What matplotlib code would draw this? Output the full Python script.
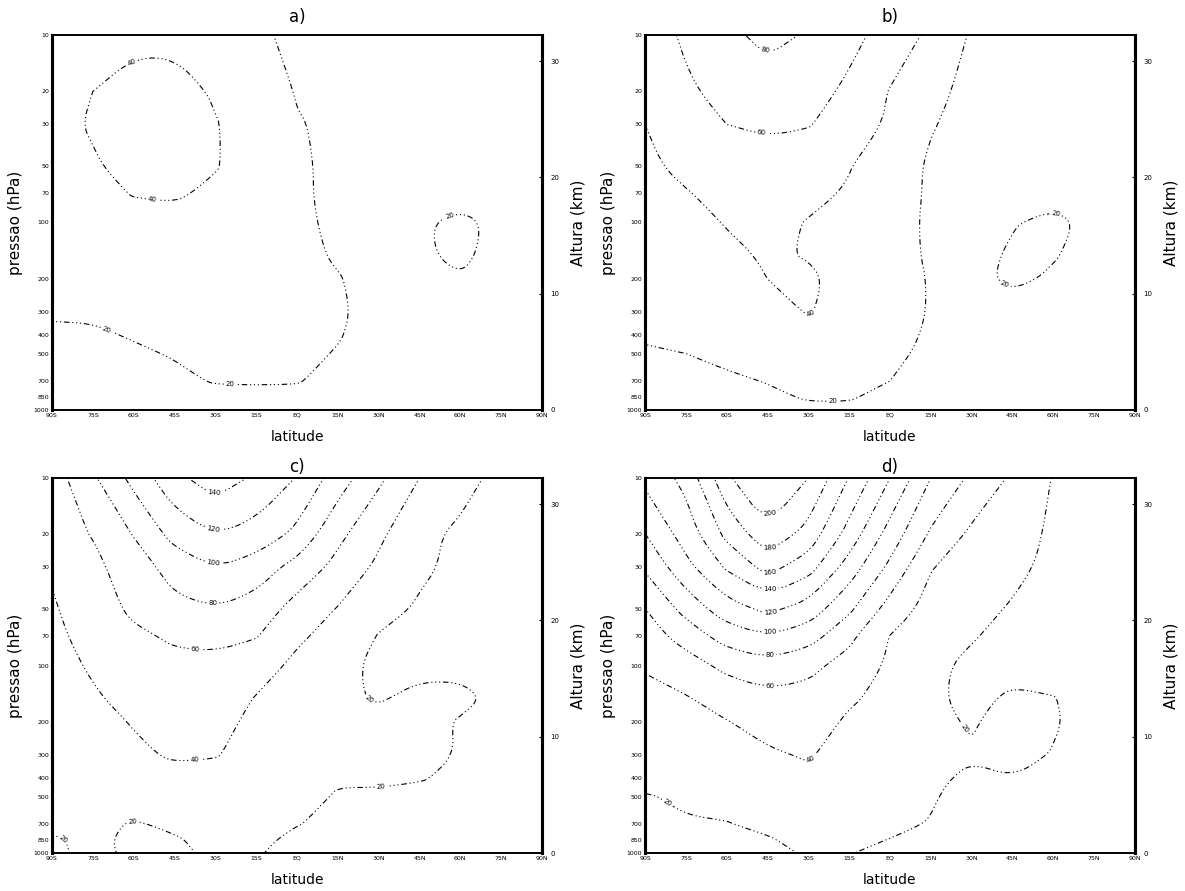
import matplotlib.pyplot as plt
import numpy as np
from matplotlib.path import Path

# grade: latitudes (colunas) e niveis de pressao em hPa (linhas, do topo para a superficie)
lats = [-90, -75, -60, -45, -30, -15, 0, 15, 30, 45, 60, 75, 90]
niveis = [10, 20, 30, 50, 70, 100, 150, 200, 300, 400, 500, 700, 850, 1000]

rotulos_lat = ['90S', '75S', '60S', '45S', '30S', '15S', 'EQ',
               '15N', '30N', '45N', '60N', '75N', '90N']
ticks_p = [10, 20, 30, 50, 70, 100, 200, 300, 400, 500, 700, 850, 1000]
ticks_z = [0, 10, 20, 30]

campo_a = [
    [30, 34, 36, 35, 30, 23, 16, 14, 12, 11, 10, 10, 10],
    [36, 40, 46, 47, 38, 30, 19, 16, 13, 12, 11, 10, 10],
    [34, 42, 48, 48, 41, 32, 21, 17, 14, 12, 11, 10, 10],
    [30, 38, 46, 46, 41, 33, 22, 17, 14, 12, 11, 11, 10],
    [28, 34, 41, 42, 37, 32, 22, 17, 14, 13, 13, 12, 11],
    [27, 30, 34, 35, 33, 30, 23, 17, 14, 18, 24, 16, 12],
    [25, 28, 31, 33, 32, 30, 25, 18, 14, 18, 23, 15, 12],
    [24, 26, 29, 30, 31, 30, 26, 21, 14, 18, 19, 13, 12],
    [22, 22, 24, 26, 27, 28, 27, 22, 15, 12, 12, 12, 11],
    [17, 18, 21, 24, 26, 27, 26, 21, 14, 12, 12, 12, 11],
    [15, 16, 18, 21, 24, 25, 24, 19, 13, 12, 11, 11, 11],
    [13, 14, 15, 17, 21, 21, 21, 15, 12, 11, 11, 11, 11],
    [12, 12, 13, 14, 16, 17, 16, 13, 12, 11, 11, 11, 11],
    [11, 11, 12, 12, 13, 13, 13, 12, 11, 11, 11, 10, 10],
]

campo_b = [
    [50, 63, 75, 86, 78, 66, 52, 36, 18, 14, 12, 11, 10],
    [47, 57, 66, 70, 68, 56, 39, 24, 16, 13, 12, 11, 10],
    [40, 50, 60, 63, 61, 52, 37, 21, 15, 13, 12, 11, 10],
    [37, 44, 50, 52, 50, 41, 28, 18, 14, 13, 12, 12, 11],
    [34, 39, 45, 47, 45, 38, 27, 18, 14, 13, 14, 13, 12],
    [30, 34, 41, 45, 39, 33, 25, 18, 14, 19, 24, 16, 12],
    [28, 31, 36, 42, 39, 33, 26, 18, 15, 22, 21, 15, 12],
    [26, 29, 34, 40, 43, 34, 27, 19, 16, 23, 18, 14, 12],
    [23, 25, 29, 34, 41, 34, 27, 19, 14, 13, 12, 12, 11],
    [21, 23, 26, 29, 32, 29, 25, 18, 14, 13, 12, 12, 11],
    [19, 20, 23, 26, 28, 26, 23, 17, 14, 13, 12, 12, 11],
    [16, 17, 18, 20.5, 24, 24, 20, 16, 13, 12, 12, 11, 11],
    [14, 15, 16, 18, 21, 21, 17, 14, 12, 12, 11, 11, 11],
    [13, 14, 15, 16, 18, 18, 15, 13, 12, 11, 11, 11, 10],
]

campo_c = [
    [50, 77, 106, 135, 150, 137, 119, 90, 64, 40, 26, 15, 12],
    [52, 61, 81, 107, 120, 113, 95, 65, 44, 24, 17, 13, 11],
    [42, 55, 70, 88, 100, 90, 73, 54, 36, 23, 16, 13, 11],
    [38, 50, 64, 75, 79, 72, 52, 39, 26, 18, 15, 12, 11],
    [36, 46, 56, 63, 65, 61, 43, 33, 19, 16, 14, 12, 11],
    [34, 42, 50, 55, 55, 48, 36, 24, 17, 17, 17, 14, 12],
    [32, 38, 45, 50, 50, 39, 33, 22, 19, 23, 23, 17, 13],
    [30, 35, 41, 46, 44, 37, 30, 23, 24, 24, 19, 15, 13],
    [27, 31, 37, 42, 41, 34, 29, 25, 25, 25, 19, 15, 13],
    [25, 28, 32, 35, 34, 30, 26, 21, 23, 21, 17, 14, 13],
    [23, 25, 28, 30, 30, 27, 24, 19, 17, 16, 15, 13, 12],
    [22, 23, 19, 22, 25, 24, 20.5, 17, 15, 14, 13, 12, 12],
    [19, 22, 18, 19, 23, 23, 17, 15, 14, 13, 12, 12, 11],
    [17, 24, 17, 18, 22, 21, 16, 14, 13, 12, 12, 11, 11],
]

campo_d = [
    [125, 146, 195, 232, 200, 159, 120, 80, 56, 37, 19, 16, 14],
    [99.5, 128.7, 165.2, 193.6, 173, 132, 91.7, 57, 36, 28, 17, 15, 14],
    [82.7, 114, 142.5, 167, 148.4, 110.7, 75.3, 41, 31, 24, 16, 15, 14],
    [59.7, 86.8, 111.4, 124.4, 111.7, 83.7, 52, 33, 24.9, 18.5, 15, 14, 13],
    [50.8, 67.7, 89, 98.6, 89, 64.6, 39.4, 28, 20.7, 17, 15, 14, 13],
    [41.5, 51.5, 65, 73, 65, 53, 37, 22, 18, 16, 15, 14, 13],
    [35.4, 38.5, 48.4, 54, 54, 42.7, 34, 22, 17, 22, 20.5, 15, 13],
    [31.5, 34.3, 39.2, 46.7, 49, 37, 31.5, 22.5, 19, 24, 21, 16, 13],
    [26.2, 28.4, 32.4, 37.4, 41.7, 32, 28, 22.5, 21, 23, 19.5, 15, 13],
    [22.4, 24.2, 27.5, 32.3, 36, 29, 26, 22, 18, 19.8, 16, 14, 13],
    [19.5, 21, 23.8, 28.5, 32, 27, 24, 21, 16, 17, 15, 14, 13],
    [17, 19.5, 19.5, 22.6, 27, 24, 22, 19.5, 15, 15, 14, 13, 12],
    [16, 18, 18.5, 19, 23.5, 22, 19.8, 18.5, 14, 14, 13.5, 13, 12],
    [15, 17, 17.5, 17.5, 21, 20.3, 18, 18, 14, 13, 13, 13, 12],
]

contornos = {
    'a': [20, 40],
    'b': [20, 40, 60, 80],
    'c': [20, 40, 60, 80, 100, 120, 140],
    'd': [20, 40, 60, 80, 100, 120, 140, 160, 180, 200],
}
campos = {'a': campo_a, 'b': campo_b, 'c': campo_c, 'd': campo_d}

# onde ficam os rotulos das isolinhas (latitude, log10 da pressao)
rotulos = {
    'a': [(-59.5, 1.19), (-53, 1.85), (-24.6, 2.88), (-68.7, 2.53), (56, 1.96)],
    'b': [(-45.9, 1.08), (-47, 1.5), (-28.3, 2.52), (-21, 2.98),
          (39.3, 2.41), (60.6, 1.99)],
    'c': [(-31, 1.13), (-31, 1.29), (-31, 1.49), (-31, 1.68), (-37.5, 1.92),
          (-37.5, 2.52), (22.8, 2.24), (30.9, 2.66), (-60.6, 2.8), (-86, 2.93)],
    'd': [(-44, 1.25), (-44, 1.4), (-44, 1.52), (-44, 1.62), (-44, 1.72),
          (-44, 1.84), (-44, 1.96), (-44, 2.08), (-28.3, 2.52), (23.8, 2.37),
          (-80.8, 2.71)],
}


def chaikin(v, fechado, n=3):
    # suaviza a linha por cortes de canto (estilo das isolinhas do GrADS)
    for _ in range(n):
        if fechado:
            p0, p1 = v, np.roll(v, -1, axis=0)
        else:
            p0, p1 = v[:-1], v[1:]
        novo = np.empty((2 * len(p0), 2))
        novo[0::2] = 0.75 * p0 + 0.25 * p1
        novo[1::2] = 0.25 * p0 + 0.75 * p1
        v = novo if fechado else np.vstack([v[:1], novo, v[-1:]])
    return v


def suavizar(path):
    verts, codes = path.vertices, path.codes
    if len(verts) == 0:
        return path
    if codes is None:
        codes = np.full(len(verts), Path.LINETO)
        codes[0] = Path.MOVETO
    inicios = list(np.where(codes == Path.MOVETO)[0]) + [len(verts)]
    vs, cs_ = [], []
    for i0, i1 in zip(inicios[:-1], inicios[1:]):
        seg, cod = verts[i0:i1], codes[i0:i1]
        fechado = cod[-1] == Path.CLOSEPOLY
        if fechado:
            seg = seg[:-1]
        if len(seg) > 2:
            seg = chaikin(seg, fechado)
        c = np.full(len(seg), Path.LINETO)
        c[0] = Path.MOVETO
        if fechado:
            seg = np.vstack([seg, seg[:1]])
            c = np.append(c, Path.CLOSEPOLY)
        vs.append(seg)
        cs_.append(c)
    return Path(np.vstack(vs), np.concatenate(cs_))


fig = plt.figure(figsize=(11.85, 8.91), dpi=100)
W, H = 1185.0, 891.0
# posicoes dos quadros em pixels (esquerda, topo)
quadros = {'a': (52, 35), 'b': (645, 35), 'c': (52, 478), 'd': (645, 478)}
larg, alt = 490, 375

logp = np.log10(niveis)
for nome, (x0, y0) in quadros.items():
    ax = fig.add_axes([x0 / W, 1 - (y0 + alt) / H, larg / W, alt / H])
    ax.set_xlim(-90, 90)
    ax.set_ylim(3, 1)
    z = np.array(campos[nome], dtype=float)
    cs = ax.contour(lats, logp, z, levels=contornos[nome],
                    colors='black', linewidths=0.8)
    cs.set_paths([suavizar(p) for p in cs.get_paths()])
    cs.set_linestyle([(0, (1, 2.5, 1, 2.5, 1, 2.5, 5, 2.5))])
    ax.clabel(cs, fmt='%d', fontsize=5, inline=True, inline_spacing=2,
              manual=rotulos[nome])

    ax.set_xticks(lats)
    ax.set_xticklabels(rotulos_lat, fontsize=4.5)
    ax.set_yticks(np.log10(ticks_p))
    ax.set_yticklabels([str(p) for p in ticks_p], fontsize=4.5)
    ax.tick_params(length=0, pad=2)
    for lado in ['left', 'right']:
        ax.spines[lado].set_linewidth(2.2)
    for lado in ['top', 'bottom']:
        ax.spines[lado].set_linewidth(1.2)

    ax.set_title(nome + ')', fontsize=12, pad=9 if y0 < 100 else 4)
    ax.set_xlabel('latitude', fontsize=10, labelpad=9)
    ax.set_ylabel('pressao (hPa)', fontsize=11, labelpad=8)

    # eixo de altura aproximada (escala de altura de 7 km)
    ax2 = ax.twinx()
    ax2.set_ylim(3, 1)
    ax2.set_yticks([np.log10(1000 * np.exp(-zk / 7.0)) for zk in ticks_z])
    ax2.set_yticklabels([str(zk) for zk in ticks_z], fontsize=5)
    ax2.tick_params(length=2, pad=6, direction='in')
    ax2.set_ylabel('Altura (km)', fontsize=11, labelpad=8)
    for lado in ['left', 'right']:
        ax2.spines[lado].set_linewidth(2.2)
    for lado in ['top', 'bottom']:
        ax2.spines[lado].set_linewidth(1.2)

fig.savefig('out.png', dpi=100)
